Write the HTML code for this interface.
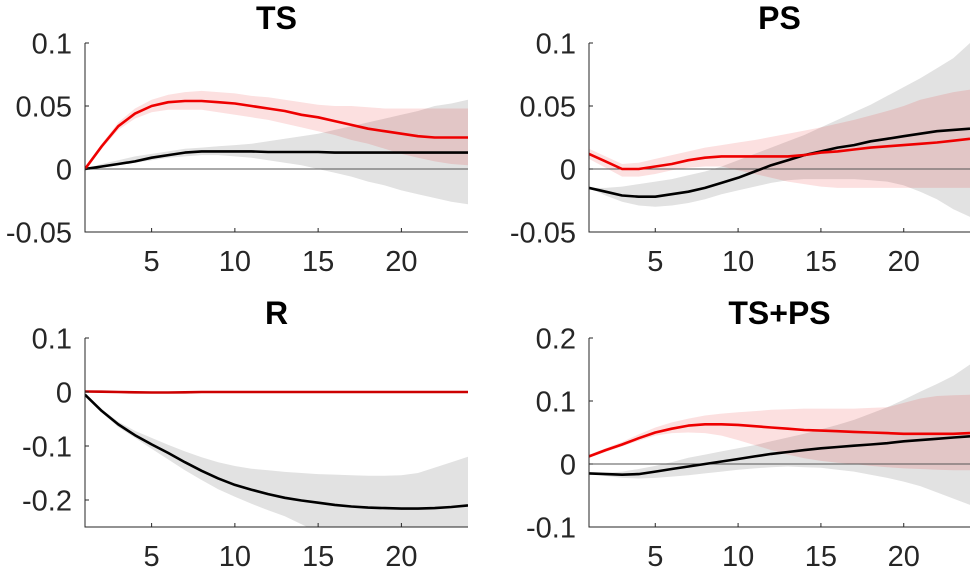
<!DOCTYPE html>
<html><head><meta charset="utf-8"><style>
body{margin:0;background:#fff;}
svg{display:block;font-family:"Liberation Sans",Arial,sans-serif;}
</style></head><body>
<svg id="chart" width="974" height="572" viewBox="0 0 974 572" xmlns="http://www.w3.org/2000/svg"></svg>
<script>
const horizons = [1,2,3,4,5,6,7,8,9,10,11,12,13,14,15,16,17,18,19,20,21,22,23,24];
const xTicks = [5,10,15,20];
const titles = ["TS","PS","R","TS+PS"];
const yTicksTS = [0.1,0.05,0,-0.05];
const yTickLabelsTS = ["0.1","0.05","0","-0.05"];
const yTicksPS = [0.1,0.05,0,-0.05];
const yTickLabelsPS = ["0.1","0.05","0","-0.05"];
const yTicksR = [0.1,0,-0.1,-0.2];
const yTickLabelsR = ["0.1","0","-0.1","-0.2"];
const yTicksTP = [0.2,0.1,0,-0.1];
const yTickLabelsTP = ["0.2","0.1","0","-0.1"];

// TS
const tsRed = [0,0.018,0.034,0.044,0.05,0.053,0.054,0.054,0.053,0.052,0.05,0.048,0.046,0.043,0.041,0.038,0.035,0.032,0.03,0.028,0.026,0.025,0.025,0.025];
const tsRedUp = [0,0.02,0.037,0.048,0.055,0.059,0.061,0.062,0.061,0.06,0.058,0.057,0.055,0.053,0.051,0.05,0.05,0.049,0.048,0.048,0.048,0.048,0.048,0.048];
const tsRedLo = [0,0.016,0.031,0.04,0.045,0.047,0.047,0.047,0.045,0.043,0.041,0.039,0.036,0.033,0.03,0.027,0.023,0.02,0.016,0.012,0.009,0.006,0.004,0.003];
const tsBlack = [0,0.002,0.004,0.006,0.009,0.011,0.013,0.014,0.014,0.014,0.014,0.0135,0.0135,0.0135,0.0135,0.013,0.013,0.013,0.013,0.013,0.013,0.013,0.013,0.013];
const tsGrayUp = [0,0.004,0.007,0.01,0.012,0.014,0.016,0.017,0.018,0.019,0.02,0.022,0.024,0.026,0.028,0.031,0.034,0.037,0.04,0.043,0.046,0.05,0.052,0.055];
const tsGrayLo = [0,0.001,0.003,0.005,0.007,0.009,0.01,0.011,0.011,0.01,0.009,0.007,0.005,0.003,0,-0.003,-0.006,-0.01,-0.013,-0.017,-0.02,-0.023,-0.026,-0.028];
// PS
const psRed = [0.012,0.006,0,0,0.002,0.004,0.007,0.009,0.01,0.01,0.01,0.01,0.01,0.011,0.013,0.014,0.0155,0.017,0.018,0.019,0.02,0.021,0.0225,0.024];
const psRedUp = [0.016,0.01,0.004,0.005,0.008,0.011,0.014,0.017,0.019,0.021,0.023,0.0255,0.028,0.0305,0.033,0.036,0.039,0.0425,0.046,0.05,0.055,0.058,0.061,0.063];
const psRedLo = [0.008,0.001,-0.006,-0.006,-0.004,-0.001,0.001,0.002,0.002,-0.001,-0.004,-0.007,-0.01,-0.012,-0.014,-0.015,-0.015,-0.015,-0.015,-0.015,-0.015,-0.015,-0.015,-0.015];
const psBlack = [-0.015,-0.018,-0.021,-0.022,-0.022,-0.02,-0.018,-0.015,-0.011,-0.007,-0.002,0.003,0.007,0.011,0.014,0.017,0.019,0.022,0.024,0.026,0.028,0.03,0.031,0.032];
const psGrayUp = [-0.015,-0.015,-0.014,-0.012,-0.01,-0.008,-0.005,-0.002,0.002,0.007,0.012,0.017,0.022,0.027,0.033,0.039,0.045,0.051,0.058,0.065,0.072,0.08,0.088,0.1];
const psGrayLo = [-0.015,-0.021,-0.026,-0.029,-0.03,-0.029,-0.027,-0.024,-0.02,-0.017,-0.014,-0.011,-0.009,-0.008,-0.008,-0.008,-0.008,-0.009,-0.01,-0.013,-0.018,-0.024,-0.032,-0.038];
// R
const rRed = [0.001,0.0005,0,-0.0005,-0.001,-0.001,-0.0005,0,0,0,0,0,0,0,0,0,0,0,0,0,0,0,0,0];
const rRedUp = [0.002,0.0015,0.001,0.0005,0,0,0.0005,0.001,0.001,0.001,0.001,0.001,0.001,0.001,0.001,0.001,0.001,0.001,0.001,0.001,0.001,0.001,0.001,0.001];
const rRedLo = [0,-0.0005,-0.001,-0.0015,-0.002,-0.002,-0.0015,-0.001,-0.001,-0.001,-0.001,-0.001,-0.001,-0.001,-0.001,-0.001,-0.001,-0.001,-0.001,-0.001,-0.001,-0.001,-0.001,-0.001];
const rBlack = [-0.005,-0.035,-0.06,-0.08,-0.097,-0.113,-0.13,-0.146,-0.16,-0.172,-0.181,-0.189,-0.196,-0.201,-0.205,-0.209,-0.212,-0.214,-0.215,-0.216,-0.216,-0.215,-0.213,-0.21];
const rGrayUp = [-0.005,-0.032,-0.055,-0.072,-0.085,-0.098,-0.11,-0.121,-0.13,-0.137,-0.142,-0.145,-0.148,-0.15,-0.152,-0.153,-0.154,-0.155,-0.155,-0.154,-0.15,-0.14,-0.13,-0.12];
const rGrayLo = [-0.005,-0.038,-0.065,-0.085,-0.105,-0.125,-0.145,-0.163,-0.18,-0.194,-0.207,-0.219,-0.23,-0.245,-0.26,-0.27,-0.28,-0.28,-0.28,-0.28,-0.28,-0.28,-0.28,-0.28];
// TS+PS
const tpRed = [0.012,0.022,0.031,0.041,0.05,0.056,0.061,0.063,0.063,0.062,0.06,0.058,0.056,0.054,0.053,0.052,0.051,0.05,0.049,0.048,0.048,0.048,0.048,0.049];
const tpRedUp = [0.015,0.025,0.035,0.047,0.058,0.066,0.072,0.077,0.08,0.082,0.084,0.086,0.087,0.088,0.088,0.088,0.088,0.089,0.09,0.097,0.104,0.108,0.109,0.11];
const tpRedLo = [0.01,0.019,0.028,0.037,0.045,0.049,0.05,0.049,0.045,0.038,0.03,0.022,0.015,0.009,0.005,0.002,0,-0.003,-0.005,-0.007,-0.008,-0.009,-0.01,-0.01];
const tpBlack = [-0.015,-0.016,-0.017,-0.016,-0.012,-0.008,-0.004,0,0.004,0.008,0.012,0.016,0.019,0.022,0.025,0.027,0.029,0.031,0.033,0.036,0.038,0.04,0.042,0.044];
const tpGrayUp = [-0.015,-0.014,-0.012,-0.008,-0.003,0.003,0.01,0.015,0.02,0.025,0.03,0.036,0.042,0.048,0.055,0.062,0.07,0.08,0.09,0.102,0.115,0.127,0.14,0.158];
const tpGrayLo = [-0.015,-0.019,-0.022,-0.023,-0.022,-0.02,-0.018,-0.015,-0.012,-0.009,-0.007,-0.005,-0.004,-0.005,-0.006,-0.009,-0.012,-0.017,-0.022,-0.028,-0.035,-0.045,-0.055,-0.065];

const NS = "http://www.w3.org/2000/svg";
const svg = document.getElementById("chart");
function mk(tag, attrs, parent){const e=document.createElementNS(NS,tag);for(const k in attrs)e.setAttribute(k,attrs[k]);(parent||svg).appendChild(e);return e;}

const panels = [
 {name:"ts",title:titles[0],x0:85,x1:468,y0:43,y1:232,ymin:-0.05,ymax:0.1,ticks:yTicksTS,labels:yTickLabelsTS,red:tsRed,ru:tsRedUp,rl:tsRedLo,blk:tsBlack,gu:tsGrayUp,gl:tsGrayLo,tb:29},
 {name:"ps",title:titles[1],x0:589,x1:970,y0:43,y1:232,ymin:-0.05,ymax:0.1,ticks:yTicksPS,labels:yTickLabelsPS,red:psRed,ru:psRedUp,rl:psRedLo,blk:psBlack,gu:psGrayUp,gl:psGrayLo,tb:29},
 {name:"r",title:titles[2],x0:85,x1:468,y0:338,y1:527,ymin:-0.25,ymax:0.1,ticks:yTicksR,labels:yTickLabelsR,red:rRed,ru:rRedUp,rl:rRedLo,blk:rBlack,gu:rGrayUp,gl:rGrayLo,tb:324},
 {name:"ts-ps",title:titles[3],x0:589,x1:970,y0:338,y1:527,ymin:-0.1,ymax:0.2,ticks:yTicksTP,labels:yTickLabelsTP,red:tpRed,ru:tpRedUp,rl:tpRedLo,blk:tpBlack,gu:tpGrayUp,gl:tpGrayLo,tb:324}
];

panels.forEach(p=>{
  const g = mk("g",{});
  
  
  const clipId = "clip-"+p.name;
  const cp = mk("clipPath",{id:clipId},g);
  mk("rect",{x:p.x0,y:p.y0,width:p.x1-p.x0,height:p.y1-p.y0},cp);
  const xs = v => p.x0 + (v-1)/(23)*(p.x1-p.x0);
  const ys = v => p.y1 - (v-p.ymin)/(p.ymax-p.ymin)*(p.y1-p.y0);
  const band = (up,lo)=>{let d="";horizons.forEach((h,i)=>{d+=(i?"L":"M")+xs(h).toFixed(1)+","+ys(up[i]).toFixed(1);});for(let i=horizons.length-1;i>=0;i--)d+="L"+xs(horizons[i]).toFixed(1)+","+ys(lo[i]).toFixed(1);return d+"Z";};
  const line = arr=>horizons.map((h,i)=>(i?"L":"M")+xs(h).toFixed(1)+","+ys(arr[i]).toFixed(1)).join("");
  const plot = mk("g",{"clip-path":"url(#"+clipId+")"},g);
  const gb = mk("path",{d:band(p.gu,p.gl),fill:"#e2e2e2"},plot);
  
  
  const rb = mk("path",{d:band(p.ru,p.rl),fill:"rgba(232,0,0,0.12)"},plot);
  
  
  const zl = mk("line",{x1:p.x0,x2:p.x1,y1:ys(0),y2:ys(0),stroke:"#555","stroke-width":1},plot);
  
  
  const bl = mk("path",{d:line(p.blk),fill:"none",stroke:"#000","stroke-width":2.6,"stroke-linejoin":"round"},plot);
  
  
  const rl = mk("path",{d:line(p.red),fill:"none",stroke:p.name==="r"?"#cc0000":"#ee0000","stroke-width":2.6,"stroke-linejoin":"round"},plot);
  
  
  const ax = mk("path",{d:`M${p.x0},${p.y0}V${p.y1}H${p.x1}`,fill:"none",stroke:"#262626","stroke-width":1},g);
  
  
  p.ticks.forEach((t,i)=>{
    const y = ys(t);
    mk("line",{x1:p.x0,x2:p.x0+4,y1:y,y2:y,stroke:"#262626"},g);
    const tx = mk("text",{x:p.x0-13,y:y+10.5,"text-anchor":"end","font-size":29,fill:"#262626"},g);
    tx.textContent = p.labels[i];
    
    
  });
  xTicks.forEach(t=>{
    const x = xs(t);
    mk("line",{x1:x,x2:x,y1:p.y1,y2:p.y1-4,stroke:"#262626"},g);
    const tx = mk("text",{x:x,y:p.y1+39,"text-anchor":"middle","font-size":29,fill:"#262626"},g);
    tx.textContent = t;
    
    
  });
  const tt = mk("text",{x:(p.x0+p.x1)/2,y:p.tb,"text-anchor":"middle","font-size":32,"font-weight":"bold",fill:"#000"},g);
  tt.textContent = p.title;
  
  
});
</script>
</body></html>
